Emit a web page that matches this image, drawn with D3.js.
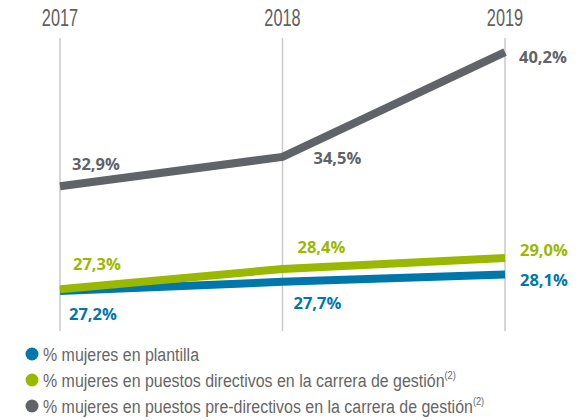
<!DOCTYPE html>
<html><head><meta charset="utf-8">
<script src="https://cdn.jsdelivr.net/npm/d3@7"></script>
<style>body{margin:0;background:#fff}svg{display:block}</style>
</head><body>
<svg id="c" width="585" height="420"></svg>
<script>
const years = ["2017", "2018", "2019"];
const plantilla = [27.2, 27.7, 28.1];
const directivos = [27.3, 28.4, 29.0];
const preDirectivos = [32.9, 34.5, 40.2];
const seriesNames = ["% mujeres en plantilla", "% mujeres en puestos directivos en la carrera de gestión", "% mujeres en puestos pre-directivos en la carrera de gestión"];
const seriesSup = ["", "(2)", "(2)"];
const colors = ["#0077aa", "#9ab800", "#606368"];

const svg = d3.select("#c");
const x = d3.scalePoint().domain(years).range([60, 505]);
const y = d3.scaleLinear().domain([26, 42]).range([313.1, 19.0]);
const sansF = "'Liberation Sans',Arial,sans-serif";
const boldF = "'Open Sans',sans-serif";

// gridlines
svg.append("g").selectAll("line").data(years).join("line")
  .attr("x1", d => x(d)).attr("x2", d => x(d)).attr("y1", 38).attr("y2", 331)
  .attr("stroke", "#c9c9c9").attr("stroke-width", 1.5);

// year labels (condensed)
svg.append("g").selectAll("text").data(years).join("text")
  .attr("transform", d => `translate(${x(d)},26) scale(0.68,1)`)
  .attr("text-anchor", "middle")
  .attr("font-family", sansF).attr("font-size", 24).attr("fill", "#606060")
  .text(d => d);

const series = [plantilla, directivos, preDirectivos];
const line = d3.line().x((d, i) => x(years[i])).y(d => y(d));
series.forEach((s, k) => {
  svg.append("path").attr("d", line(s)).attr("fill", "none")
    .attr("stroke", colors[k]).attr("stroke-width", 8).attr("stroke-linejoin", "miter");
});

// value labels: offsets [dx, dy] per series per year
const fmt = v => d3.format(".1f")(v).replace(".", ",") + "%";
const offs = [
  [[9, 29], [11, 27], [15, 12]],
  [[13, -19], [15, -16], [15, -2]],
  [[12, -16], [31, 7], [14, 11]]
];
series.forEach((s, k) => {
  svg.append("g").selectAll("text").data(s).join("text")
    .attr("x", (d, i) => x(years[i]) + offs[k][i][0])
    .attr("y", (d, i) => y(d) + offs[k][i][1])
    .attr("font-family", boldF).attr("font-weight", 700).attr("font-size", 16.5)
    .attr("fill", colors[k]).text(d => fmt(d));
});

// legend
const lg = svg.append("g");
seriesNames.forEach((n, k) => {
  const yy = 354 + k * 26;
  lg.append("circle").attr("cx", 32).attr("cy", yy).attr("r", 6.5).attr("fill", colors[k]);
  const t = lg.append("text").attr("transform", `translate(43,${yy + 6.5}) scale(0.84,1)`)
    .attr("font-family", sansF).attr("font-size", 19).attr("fill", "#666");
  t.append("tspan").text(n);
  if (seriesSup[k]) t.append("tspan").attr("font-size", 11).attr("dy", -8).text(seriesSup[k]);
});
</script>
</body></html>
